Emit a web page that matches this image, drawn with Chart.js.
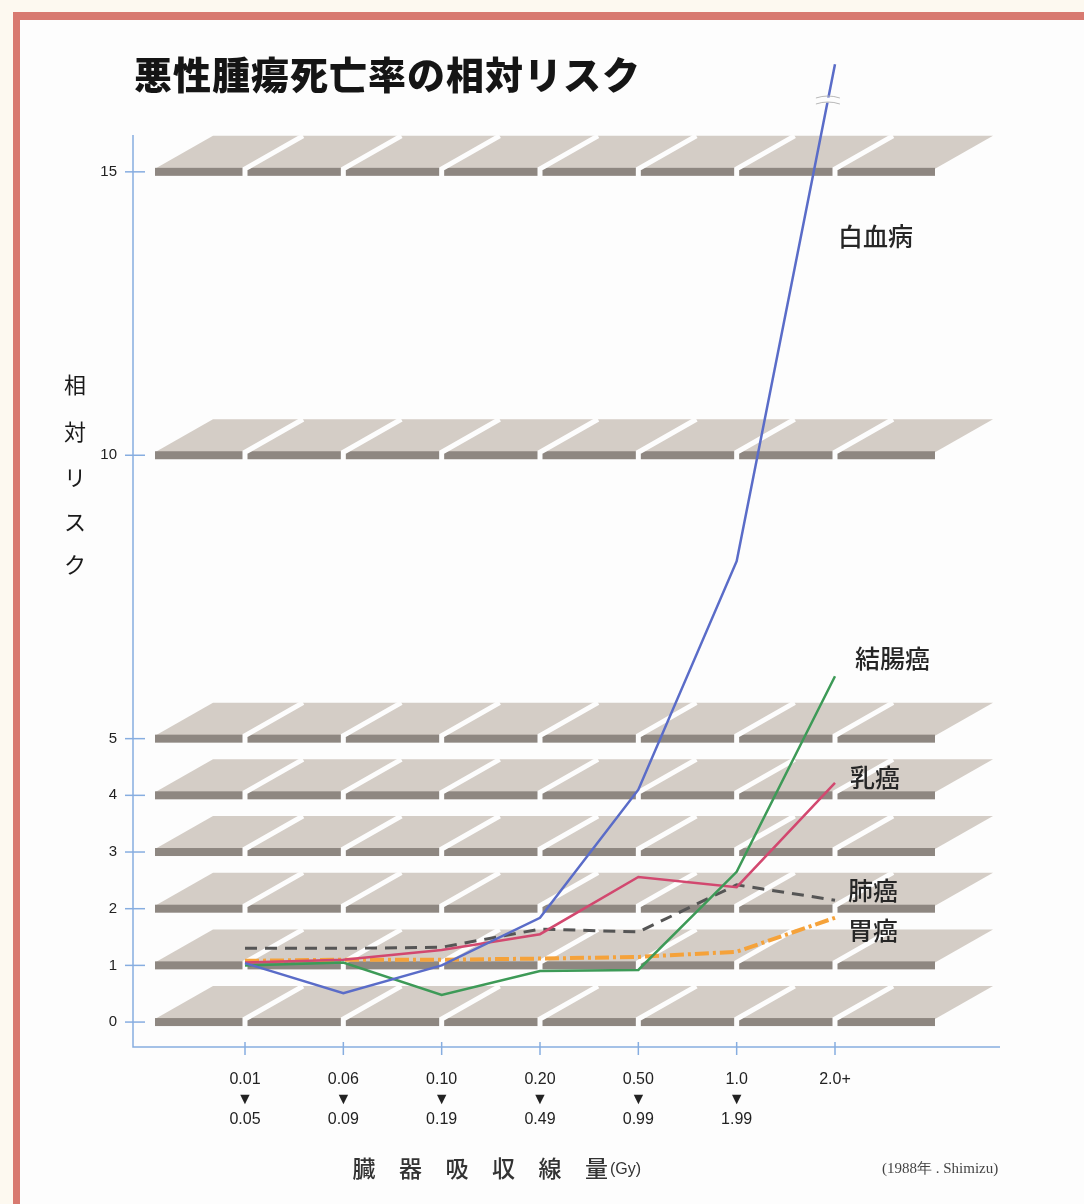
<!DOCTYPE html>
<html>
<head>
<meta charset="utf-8">
<script src="https://cdn.jsdelivr.net/npm/chart.js@4.4.1/dist/chart.umd.min.js"></script>
<style>
  body { margin: 0; background: #fdf9f0; }
  #wrap { position: relative; width: 1084px; height: 1204px; }
  #frame { position: absolute; left: 13px; top: 12px; right: 0; bottom: 0;
           border-top: 8px solid #d87a70; border-left: 7px solid #d87a70; background: #fdfdfd; }
  canvas { position: absolute; left: 0; top: 0; }
</style>
</head>
<body>
<div id="wrap">
  <div id="frame"></div>
  <canvas id="myChart" width="1084" height="1204"></canvas>
</div>
<script>
// dose groups (Gy), upper and lower line of each tick label
var doseFrom = ["0.01", "0.06", "0.10", "0.20", "0.50", "1.0", "2.0+"];
var doseTo   = ["0.05", "0.09", "0.19", "0.49", "0.99", "1.99", ""];
var yTicks = [0, 1, 2, 3, 4, 5, 10, 15];

// relative risk
var leukemia = [1.04, 0.51, 1.0, 1.84, 4.1, 8.13, 16.9];
var colon    = [1.0, 1.05, 0.48, 0.9, 0.92, 2.65, 6.1];
var breast   = [1.05, 1.1, 1.27, 1.55, 2.56, 2.38, 4.22];
var lung     = [1.3, 1.3, 1.32, 1.64, 1.59, 2.42, 2.15];
var stomach  = [1.08, 1.1, 1.1, 1.12, 1.15, 1.24, 1.84];

var seriesNames = ["白血病", "結腸癌", "乳癌", "肺癌", "胃癌"];

function pts(arr) {
    var out = [];
    for (var i = 0; i < arr.length; i++) {
        out.push({x: i + 1, y: arr[i]});
    }
    return out;
}

var axisBlue = "#86ade0";

// shelves, axes and texts
var shelves = {
    id: "shelves",
    beforeDatasetsDraw: function(chart) {
        var ctx = chart.ctx, xs = chart.scales.x, ys = chart.scales.y;
        var x0 = 155, x1 = 935, depth = 33, skew = 58;
        ctx.save();
        for (var i = 0; i < yTicks.length; i++) {
            var yb = ys.getPixelForValue(yTicks[i]);
            // top plate
            ctx.fillStyle = "#d4cdc6";
            ctx.beginPath();
            ctx.moveTo(x0, yb - 3);
            ctx.lineTo(x1, yb - 3);
            ctx.lineTo(x1 + skew, yb - 3 - depth);
            ctx.lineTo(x0 + skew, yb - 3 - depth);
            ctx.closePath();
            ctx.fill();
            // front edge
            ctx.fillStyle = "#8e8781";
            ctx.fillRect(x0, yb - 4, x1 - x0, 8);
            // white cuts at each category
            ctx.strokeStyle = "#fdfdfd";
            ctx.lineWidth = 5;
            for (var k = 0; k < doseFrom.length; k++) {
                var xc = xs.getPixelForValue(k + 1);
                ctx.beginPath();
                ctx.moveTo(xc, yb + 5);
                ctx.lineTo(xc, yb - 3);
                ctx.lineTo(xc + skew, yb - 3 - depth);
                ctx.stroke();
            }
        }
        // axes
        var ca = chart.chartArea;
        ctx.strokeStyle = axisBlue;
        ctx.lineWidth = 1.5;
        ctx.beginPath();
        ctx.moveTo(ca.left, ca.top);
        ctx.lineTo(ca.left, ca.bottom);
        ctx.lineTo(ca.right, ca.bottom);
        ctx.stroke();
        ctx.fillStyle = "#222";
        ctx.font = "15px 'Liberation Sans', Arial, sans-serif";
        ctx.textAlign = "right";
        ctx.textBaseline = "middle";
        for (var i = 0; i < yTicks.length; i++) {
            var y = ys.getPixelForValue(yTicks[i]);
            ctx.beginPath();
            ctx.moveTo(ca.left - 8, y);
            ctx.lineTo(ca.left + 12, y);
            ctx.stroke();
            ctx.fillText(String(yTicks[i]), ca.left - 16, y);
        }
        ctx.textAlign = "center";
        ctx.font = "16px 'Liberation Sans', Arial, sans-serif";
        for (var k = 0; k < doseFrom.length; k++) {
            var x = xs.getPixelForValue(k + 1);
            ctx.beginPath();
            ctx.moveTo(x, ca.bottom - 5);
            ctx.lineTo(x, ca.bottom + 8);
            ctx.stroke();
            ctx.fillText(doseFrom[k], x, 1080);
            if (doseTo[k]) {
                ctx.fillText("▼", x, 1100);
                ctx.fillText(doseTo[k], x, 1120);
            }
        }
        ctx.restore();
    },
    afterDatasetsDraw: function(chart) {
        var ctx = chart.ctx;
        // break mark on the leukemia line
        var m = chart.getDatasetMeta(0).data;
        var a = m[m.length - 2], b = m[m.length - 1];
        var yy = 100;
        var t = (yy - a.y) / (b.y - a.y);
        var xx = a.x + (b.x - a.x) * t;
        ctx.save();
        ctx.strokeStyle = "#fdfdfd";
        ctx.lineWidth = 5;
        ctx.beginPath();
        ctx.moveTo(xx - 12, yy);
        ctx.lineTo(xx + 12, yy);
        ctx.stroke();
        ctx.strokeStyle = "#b8b8b8";
        ctx.lineWidth = 1;
        ctx.beginPath();
        ctx.moveTo(xx - 12, yy - 2);
        ctx.quadraticCurveTo(xx, yy - 6, xx + 12, yy - 2);
        ctx.moveTo(xx - 12, yy + 4);
        ctx.quadraticCurveTo(xx, yy, xx + 12, yy + 4);
        ctx.stroke();

        // texts
        ctx.fillStyle = "#151515";
        ctx.textBaseline = "middle";
        ctx.textAlign = "center";
        ctx.font = "900 38px 'Noto Sans CJK JP', sans-serif";
        var title = "悪性腫瘍死亡率の相対リスク";
        for (var i = 0; i < title.length; i++) {
            ctx.fillText(title[i], 153 + i * 39, 75);
        }
        ctx.fillStyle = "#1a1a1a";
        ctx.font = "22px 'Noto Sans CJK JP', sans-serif";
        var ytitle = "相対リスク";
        var ty = [385, 432, 478, 522, 565];
        for (var i = 0; i < ytitle.length; i++) {
            ctx.fillText(ytitle[i], 75, ty[i]);
        }
        ctx.fillStyle = "#333";
        ctx.font = "500 23px 'Noto Sans CJK JP', sans-serif";
        var xtitle = "臓器吸収線量";
        for (var i = 0; i < xtitle.length; i++) {
            ctx.fillText(xtitle[i], 364 + i * 46.5, 1168);
        }
        ctx.textAlign = "left";
        ctx.font = "16px 'Liberation Sans', Arial, sans-serif";
        ctx.fillText("(Gy)", 610, 1170);
        ctx.font = "15px 'Liberation Serif', serif";
        ctx.fillStyle = "#444";
        ctx.fillText("(1988年 . Shimizu)", 882, 1169);

        ctx.fillStyle = "#262626";
        ctx.font = "500 25px 'Noto Sans CJK JP', sans-serif";
        var lx = [838, 855, 850, 848, 848];
        var ly = [236, 658, 777, 890, 930];
        for (var i = 0; i < seriesNames.length; i++) {
            ctx.fillText(seriesNames[i], lx[i], ly[i]);
        }
        ctx.restore();
    }
};

var ctx = document.getElementById("myChart").getContext("2d");

var myChart = new Chart(ctx, {
    type: "line",
    data: {
        datasets: [
            { label: seriesNames[0], data: pts(leukemia), borderColor: "#5a6cc8", borderWidth: 2.5, clip: false },
            { label: seriesNames[1], data: pts(colon), borderColor: "#3d9a57", borderWidth: 2.5 },
            { label: seriesNames[2], data: pts(breast), borderColor: "#d2486f", borderWidth: 2.5 },
            { label: seriesNames[3], data: pts(lung), borderColor: "#555555", borderWidth: 3, borderDash: [12, 8] },
            { label: seriesNames[4], data: pts(stomach), borderColor: "#f5a23a", borderWidth: 4, borderDash: [14, 4, 3, 4] }
        ]
    },
    options: {
        responsive: false,
        animation: false,
        layout: { padding: { left: 133, right: 84, top: 135, bottom: 157 } },
        elements: { point: { radius: 0 }, line: { tension: 0, fill: false } },
        plugins: { legend: { display: false }, tooltip: { enabled: false } },
        scales: {
            x: { type: "linear", display: false, min: -0.139, max: 8.678 },
            y: { type: "linear", display: false, min: -0.44, max: 15.65 }
        }
    },
    plugins: [shelves]
});
</script>
</body>
</html>
